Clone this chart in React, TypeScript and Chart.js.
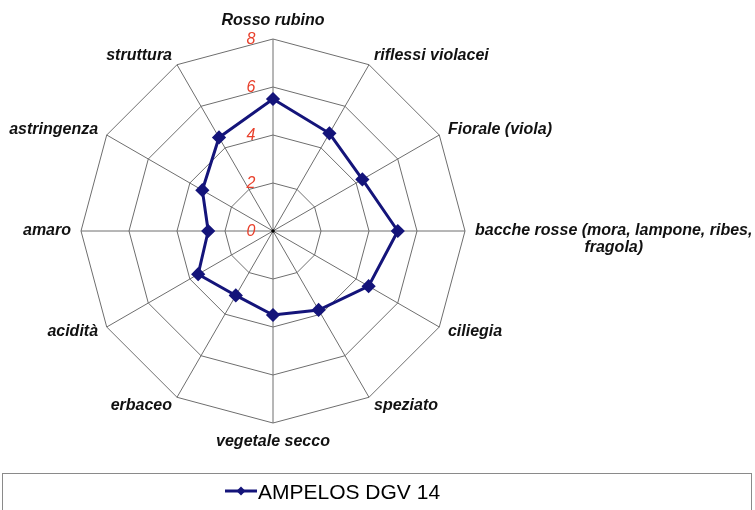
import React, { useEffect, useRef } from "react";
import { Chart, registerables } from "chart.js";

Chart.register(...registerables);

const categories: string[][] = [
  ["Rosso rubino"],
  ["riflessi violacei"],
  ["Fiorale (viola)"],
  ["bacche rosse (mora, lampone, ribes,", "fragola)"],
  ["ciliegia"],
  ["speziato"],
  ["vegetale secco"],
  ["erbaceo"],
  ["acidità"],
  ["amaro"],
  ["astringenza"],
  ["struttura"],
];
const seriesLabel = "AMPELOS DGV 14";
const seriesValues = [5.5, 4.7, 4.3, 5.2, 4.6, 3.8, 3.5, 3.1, 3.6, 2.7, 3.4, 4.5];
const tickValues = [0, 2, 4, 6, 8];

const FONT = "'Liberation Sans', Arial, sans-serif";
const NAVY = "#14147a";

const customDraw = {
  id: "customDraw",
  afterDatasetsDraw(chart: any) {
    const ctx = chart.ctx as CanvasRenderingContext2D;
    const scale = chart.scales.r;
    ctx.save();
    // tick labels
    ctx.font = `italic 16px ${FONT}`;
    ctx.fillStyle = "#e8402c";
    ctx.textAlign = "center";
    ctx.textBaseline = "middle";
    tickValues.forEach((v) => {
      const d = scale.getDistanceFromCenterForValue(v);
      ctx.fillText(String(v), scale.xCenter - 22, scale.yCenter - d + 1);
    });
    // center dot
    ctx.fillStyle = "#000";
    ctx.beginPath();
    ctx.arc(scale.xCenter, scale.yCenter, 1.8, 0, Math.PI * 2);
    ctx.fill();
    ctx.restore();
  },
  afterDraw(chart: any) {
    const ctx = chart.ctx as CanvasRenderingContext2D;
    const scale = chart.scales.r;
    ctx.save();
    // point labels
    ctx.font = `italic bold 16px ${FONT}`;
    ctx.fillStyle = "#111";
    const labels = chart.data.labels as string[][];
    labels.forEach((lines, i) => {
      const p = scale.getPointPosition(i, scale.drawingArea + 10);
      let deg = (scale.getIndexAngle(i) * 180) / Math.PI;
      deg = ((deg % 360) + 360) % 360;
      const lh = 17;
      const widths = lines.map((l) => ctx.measureText(l).width);
      const bw = Math.max(...widths);
      let left: number;
      if (deg < 1 || Math.abs(deg - 180) < 1) left = p.x - bw / 2;
      else if (deg < 180) left = p.x;
      else left = p.x - bw;
      let top: number;
      const bh = lines.length * lh;
      if (deg < 1) top = p.y - bh;
      else if (Math.abs(deg - 180) < 1) top = p.y;
      else top = p.y - lh / 2;
      ctx.textAlign = "center";
      ctx.textBaseline = "middle";
      lines.forEach((l, j) => {
        ctx.fillText(l, left + bw / 2, top + lh / 2 + j * lh);
      });
    });
    // legend box
    ctx.strokeStyle = "#8a8a8a";
    ctx.lineWidth = 1;
    ctx.strokeRect(2.5, 473.5, 749, 60);
    const ds = chart.data.datasets[0];
    ctx.strokeStyle = NAVY;
    ctx.lineWidth = 3;
    ctx.beginPath();
    ctx.moveTo(225, 491);
    ctx.lineTo(257, 491);
    ctx.stroke();
    ctx.fillStyle = NAVY;
    ctx.beginPath();
    ctx.moveTo(241, 486.5);
    ctx.lineTo(245.5, 491);
    ctx.lineTo(241, 495.5);
    ctx.lineTo(236.5, 491);
    ctx.closePath();
    ctx.fill();
    ctx.fillStyle = "#000";
    ctx.font = `21px ${FONT}`;
    ctx.textAlign = "left";
    ctx.textBaseline = "middle";
    ctx.fillText(ds.label, 258, 493);
    ctx.restore();
  },
};

export default function App() {
  const ref = useRef<HTMLCanvasElement | null>(null);
  useEffect(() => {
    if (!ref.current) return;
    const chart = new Chart(ref.current, {
      type: "radar",
      data: {
        labels: categories as any,
        datasets: [
          {
            label: seriesLabel,
            data: seriesValues,
            borderColor: NAVY,
            backgroundColor: NAVY,
            borderWidth: 3,
            fill: false,
            pointStyle: "rectRot",
            pointRadius: 5,
            pointBackgroundColor: NAVY,
            pointBorderColor: NAVY,
            tension: 0,
          },
        ],
      },
      options: {
        animation: false,
        responsive: false,
        devicePixelRatio: 1,
        layout: { padding: { left: 81, right: 290, top: 39, bottom: 87 } },
        plugins: { legend: { display: false }, tooltip: { enabled: false } },
        scales: {
          r: {
            min: 0,
            max: 8,
            ticks: { stepSize: 2, display: false },
            grid: { color: "#6e6e6e", lineWidth: 1 },
            angleLines: { color: "#6e6e6e", lineWidth: 1 },
            pointLabels: { display: false },
          },
        },
      },
      plugins: [customDraw],
    });
    return () => chart.destroy();
  }, []);
  return (
    <div style={{ position: "fixed", left: 0, top: 0, width: 755, height: 510, background: "#fff" }}>
      <canvas ref={ref} width={755} height={510} style={{ display: "block", width: 755, height: 510 }} />
    </div>
  );
}
